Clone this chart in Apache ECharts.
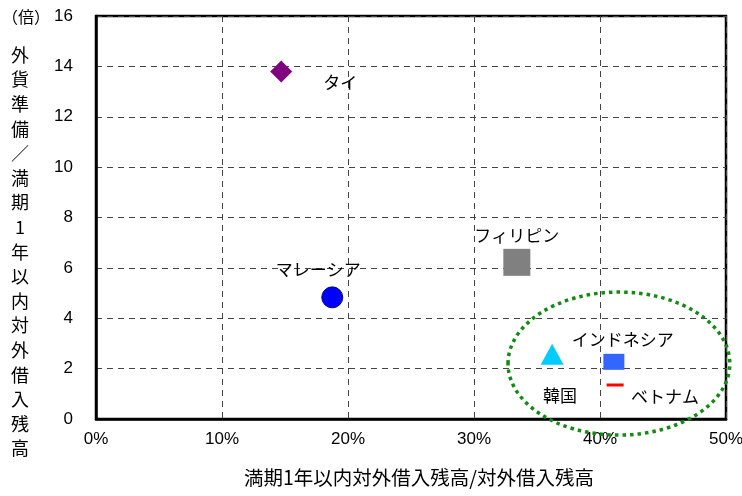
<!DOCTYPE html>
<html><head><meta charset="utf-8">
<script src="https://cdn.jsdelivr.net/npm/echarts@6/dist/echarts.min.js"></script>
<style>html,body{margin:0;padding:0;background:#fff}#c{width:742px;height:496px}</style>
</head><body><div id="c"></div>
<script>
// Data
const countries = ['タイ', 'マレーシア', 'フィリピン', '韓国', 'インドネシア', 'ベトナム'];
const shortDebtShare = [14.7, 18.75, 33.4, 36.2, 41.1, 41.2]; // x, %
const reserveRatio = [13.8, 4.83, 6.22, 2.57, 2.27, 1.35];   // y, times
const xTicks = [0, 10, 20, 30, 40, 50];
const yTicks = [0, 2, 4, 6, 8, 10, 12, 14, 16];
const circledX = 41.5, circledY = 2.2, circledRx = 8.8, circledRy = 2.84;

// Styles
const symbols = ['diamond', 'circle', 'rect', 'triangle', 'rect', 'rect'];
const sizes = [[22, 22], [21, 21], [27, 27], [23, 21], [21, 16], [17, 3]];
const colors = ['#800080', '#0000ff', '#808080', '#00ccff', '#3366ff', '#ff0000'];
const borders = ['none', '#000080', 'none', 'none', 'none', 'none'];
const labelOffsets = [[59, 11], [-14, -28], [0, -27], [8, 41], [9, -22], [50, 12]];

const jp = '"Noto Sans CJK JP", sans-serif';
const chart = echarts.init(document.getElementById('c'));
const series = countries.map((name, i) => ({
  type: 'scatter',
  name: name,
  symbol: symbols[i],
  symbolSize: sizes[i],
  itemStyle: { color: colors[i], opacity: 1, borderColor: borders[i] === 'none' ? 'transparent' : borders[i], borderWidth: borders[i] === 'none' ? 0 : 1 },
  label: {
    show: true, formatter: name, position: 'inside', offset: labelOffsets[i],
    align: 'center', verticalAlign: 'middle',
    color: '#000', fontSize: 17, fontFamily: jp
  },
  emphasis: { disabled: true },
  data: [[shortDebtShare[i], reserveRatio[i]]],
  z: 3
}));

const yTitleChars = '外貨準備／満期1年以内対外借入残高'.split('');
const baseGraphic = [
  { type: 'text', left: 2, top: 9, style: { text: '（倍）', fill: '#000', fontSize: 16, fontFamily: jp } }
].concat(yTitleChars.map((ch, i) => ({
  type: 'text', x: 20, y: 55 + i * 24.6,
  style: { text: ch, fill: '#000', fontSize: 18, fontFamily: jp, align: 'center', verticalAlign: 'middle' }
})));

chart.setOption({
  animation: false,
  grid: { left: 96, top: 16, right: 16, bottom: 77, outerBoundsMode: 'none', containLabel: false, show: true, borderColor: '#000', borderWidth: 2.5, backgroundColor: 'transparent' },
  xAxis: {
    type: 'value', min: xTicks[0], max: xTicks[xTicks.length - 1], interval: 10,
    axisLine: { show: true, lineStyle: { color: '#000', width: 2.5 } },
    axisTick: { show: false },
    splitLine: { show: true, lineStyle: { color: '#444', type: [6, 5], width: 1 } },
    axisLabel: { formatter: '{value}%', color: '#000', fontSize: 17, fontFamily: 'Liberation Sans, Arial, sans-serif', margin: 12 },
    name: '満期1年以内対外借入残高/対外借入残高', nameLocation: 'middle', nameGap: 49,
    nameTextStyle: { color: '#000', fontSize: 19.5, fontFamily: jp, padding: [0, 0, 0, 16] }
  },
  yAxis: {
    type: 'value', min: yTicks[0], max: yTicks[yTicks.length - 1], interval: 2,
    axisLine: { show: true, lineStyle: { color: '#000', width: 2.5 } },
    axisTick: { show: false },
    splitLine: { show: true, lineStyle: { color: '#444', type: [6, 5], width: 1 } },
    axisLabel: { color: '#000', fontSize: 17, fontFamily: 'Liberation Sans, Arial, sans-serif', margin: 23 }
  },
  graphic: baseGraphic,
  series: series
});

function drawEllipse() {
  const c = chart.convertToPixel({ gridIndex: 0 }, [circledX, circledY]);
  const e = chart.convertToPixel({ gridIndex: 0 }, [circledX + circledRx, circledY + circledRy]);
  chart.setOption({
    graphic: baseGraphic.concat([
      { type: 'ellipse', shape: { cx: c[0], cy: c[1], rx: e[0] - c[0], ry: c[1] - e[1] },
        style: { fill: 'none', stroke: '#138a13', lineWidth: 3.5, lineDash: [3.5, 4] }, z: 10 }
    ])
  }, { replaceMerge: ['graphic'] });
}
drawEllipse();
</script></body></html>
